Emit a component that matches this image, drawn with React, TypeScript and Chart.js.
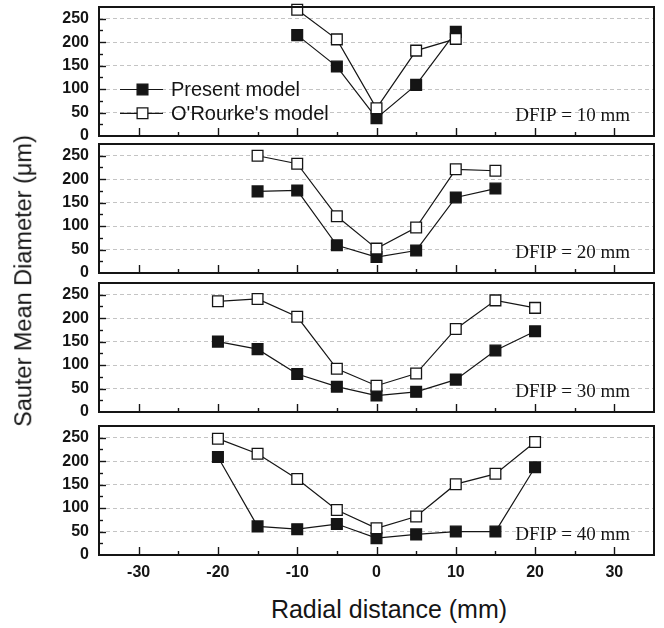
import React, { useEffect, useRef } from 'react';
import { Chart, registerables } from 'chart.js';

Chart.register(...registerables);

// ---------- data ----------
const radialDfip10 = [-10, -5, 0, 5, 10];
const presentDfip10 = [215, 148, 38, 109, 222];
const orourkeDfip10 = [269, 206, 59, 182, 207];

const radialDfip20 = [-15, -10, -5, 0, 5, 10, 15];
const presentDfip20 = [174, 176, 59, 34, 48, 161, 180];
const orourkeDfip20 = [250, 233, 121, 52, 97, 221, 218];

const radialDfip30 = [-20, -15, -10, -5, 0, 5, 10, 15, 20];
const presentDfip30 = [150, 134, 81, 54, 35, 43, 69, 131, 172];
const orourkeDfip30 = [236, 241, 203, 92, 56, 82, 177, 238, 222];

const radialDfip40 = [-20, -15, -10, -5, 0, 5, 10, 15, 20];
const presentDfip40 = [209, 61, 55, 66, 36, 44, 50, 50, 187];
const orourkeDfip40 = [248, 216, 162, 96, 57, 82, 151, 173, 241];

const panelLabels = ['DFIP = 10 mm', 'DFIP = 20 mm', 'DFIP = 30 mm', 'DFIP = 40 mm'];
const seriesNames = ['Present model', "O'Rourke's model"];
const xTickValues = [-30, -20, -10, 0, 10, 20, 30];
const yTickValues = [0, 50, 100, 150, 200, 250];
const xTitle = 'Radial distance (mm)';
const yTitle = 'Sauter Mean Diameter (\u03bcm)';

// ---------- layout ----------
const PLOT_LEFT = 99;
const PLOT_RIGHT = 654;
const PAD_TOP = 7;
const areaTops = [7, 144, 283, 426];
const areaBottoms = [136, 273, 412, 555];
const LAST_CANVAS_BOTTOM = 592;

const INK = '#151515';
const SANS = '"Liberation Sans", Arial, sans-serif';
const SERIF = '"Liberation Serif", "Times New Roman", serif';
const POINT_R = 7.6;

type PanelProps = {
  idx: number;
  xs: number[];
  present: number[];
  orourke: number[];
};

function drawSquare(ctx: CanvasRenderingContext2D, cx: number, cy: number, filled: boolean) {
  const s = Math.SQRT1_2 * POINT_R;
  ctx.beginPath();
  ctx.rect(cx - s, cy - s, 2 * s, 2 * s);
  ctx.fillStyle = filled ? INK : '#ffffff';
  ctx.fill();
  ctx.lineWidth = 1.3;
  ctx.strokeStyle = INK;
  ctx.stroke();
}

function zeroPadding(s: any) {
  s.paddingTop = 0;
  s.paddingBottom = 0;
  s.paddingLeft = 0;
  s.paddingRight = 0;
}

function Panel({ idx, xs, present, orourke }: PanelProps) {
  const ref = useRef<HTMLCanvasElement | null>(null);
  const isLast = idx === 3;
  const canvasTop = areaTops[idx] - PAD_TOP;
  const plotH = areaBottoms[idx] - areaTops[idx];
  const canvasH = isLast ? LAST_CANVAS_BOTTOM - canvasTop : PAD_TOP + plotH + 6;
  const xAxisH = canvasH - PAD_TOP - plotH;

  useEffect(() => {
    if (!ref.current) return;
    const decor = {
      id: 'decor' + idx,
      afterDraw(chart: any) {
        const { ctx, chartArea: a, scales } = chart;
        const x = scales.x;
        const y = scales.y;
        ctx.save();
        // inward tick marks
        ctx.strokeStyle = INK;
        ctx.lineWidth = 1.4;
        for (let v = -30; v <= 30; v += 5) {
          const px = Math.round(x.getPixelForValue(v)) + 0.5;
          const len = v % 10 === 0 ? 8 : 4;
          ctx.beginPath();
          ctx.moveTo(px, a.bottom);
          ctx.lineTo(px, a.bottom - len);
          ctx.stroke();
        }
        for (let v = 25; v <= 250; v += 25) {
          const py = Math.round(y.getPixelForValue(v)) + 0.5;
          const len = v % 50 === 0 ? 7 : 4;
          ctx.beginPath();
          ctx.moveTo(a.left, py);
          ctx.lineTo(a.left + len, py);
          ctx.stroke();
        }
        // frame
        ctx.lineWidth = 2;
        ctx.strokeRect(a.left, a.top, a.right - a.left, a.bottom - a.top);
        // panel label
        ctx.fillStyle = INK;
        ctx.font = '19px ' + SERIF;
        ctx.textAlign = 'right';
        ctx.textBaseline = 'alphabetic';
        ctx.fillText(panelLabels[idx], a.right - 24, a.bottom - 15);
        // legend (first panel only)
        if (idx === 0) {
          const rows = [
            { cy: a.top + 82.5, filled: true, text: seriesNames[0] },
            { cy: a.top + 106.3, filled: false, text: seriesNames[1] },
          ];
          ctx.font = '20px ' + SANS;
          ctx.textAlign = 'left';
          ctx.textBaseline = 'middle';
          rows.forEach((r) => {
            ctx.strokeStyle = INK;
            ctx.lineWidth = 1.2;
            ctx.beginPath();
            ctx.moveTo(a.left + 21, r.cy);
            ctx.lineTo(a.left + 64, r.cy);
            ctx.stroke();
            drawSquare(ctx, a.left + 43.5, r.cy, r.filled);
            ctx.fillStyle = INK;
            ctx.fillText(r.text, a.left + 72, r.cy + 1);
          });
        }
        ctx.restore();
      },
    };

    const chart = new Chart(ref.current, {
      type: 'line',
      data: {
        datasets: [
          {
            label: seriesNames[0],
            data: xs.map((v, i) => ({ x: v, y: present[i] })),
            borderColor: INK,
            borderWidth: 1.2,
            backgroundColor: INK,
            pointStyle: 'rect',
            pointRadius: POINT_R,
            pointBorderWidth: 1.3,
            pointBackgroundColor: INK,
            pointBorderColor: INK,
            tension: 0,
            clip: false as any,
            order: 2,
          },
          {
            label: seriesNames[1],
            data: xs.map((v, i) => ({ x: v, y: orourke[i] })),
            borderColor: INK,
            borderWidth: 1.2,
            backgroundColor: '#ffffff',
            pointStyle: 'rect',
            pointRadius: POINT_R,
            pointBorderWidth: 1.3,
            pointBackgroundColor: '#ffffff',
            pointBorderColor: INK,
            tension: 0,
            clip: false as any,
            order: 1,
          },
        ],
      },
      options: {
        animation: false,
        responsive: false,
        devicePixelRatio: 1,
        events: [],
        layout: {
          autoPadding: false,
          padding: { top: PAD_TOP, left: 0, right: 664 - PLOT_RIGHT, bottom: 0 },
        },
        plugins: { legend: { display: false }, tooltip: { enabled: false }, title: { display: false } },
        scales: {
          x: {
            type: 'linear',
            position: 'bottom',
            min: -35,
            max: 35,
            afterBuildTicks: (s: any) => {
              s.ticks = xTickValues.map((v) => ({ value: v }));
            },
            afterFit: (s: any) => {
              s.height = xAxisH;
              zeroPadding(s);
            },
            grid: { display: false, drawTicks: false },
            border: { display: false },
            ticks: {
              display: isLast,
              color: INK,
              padding: 8,
              font: { family: SANS, size: 16, weight: 'bold' },
              maxRotation: 0,
              autoSkip: false,
            },
          },
          y: {
            type: 'linear',
            min: 0,
            max: 275,
            afterBuildTicks: (s: any) => {
              s.ticks = yTickValues.map((v) => ({ value: v }));
            },
            afterFit: (s: any) => {
              s.width = PLOT_LEFT;
              zeroPadding(s);
            },
            grid: { display: true, drawTicks: false, color: '#c4c4c4', lineWidth: 1 },
            border: { display: false, dash: [4, 3] },
            ticks: {
              color: INK,
              padding: 10,
              font: { family: SANS, size: 16, weight: 'bold' },
            },
          },
        },
      },
      plugins: [decor],
    } as any);
    return () => chart.destroy();
  }, []);

  return (
    <canvas
      ref={ref}
      width={664}
      height={canvasH}
      style={{ position: 'absolute', left: 0, top: canvasTop, width: 664, height: canvasH }}
    />
  );
}

export default function App() {
  return (
    <div
      style={{
        position: 'fixed',
        left: 0,
        top: 0,
        width: 664,
        height: 628,
        background: '#ffffff',
        overflow: 'hidden',
      }}
    >
      <Panel idx={0} xs={radialDfip10} present={presentDfip10} orourke={orourkeDfip10} />
      <Panel idx={1} xs={radialDfip20} present={presentDfip20} orourke={orourkeDfip20} />
      <Panel idx={2} xs={radialDfip30} present={presentDfip30} orourke={orourkeDfip30} />
      <Panel idx={3} xs={radialDfip40} present={presentDfip40} orourke={orourkeDfip40} />
      <div
        style={{
          position: 'absolute',
          left: 24,
          top: 281,
          transform: 'translate(-50%, -50%) rotate(-90deg)',
          whiteSpace: 'nowrap',
          fontFamily: SANS,
          fontSize: 23.5,
          lineHeight: 1,
          color: INK,
        }}
      >
        {yTitle}
      </div>
      <div
        style={{
          position: 'absolute',
          left: 389,
          top: 597,
          transform: 'translateX(-50%)',
          whiteSpace: 'nowrap',
          fontFamily: SANS,
          fontSize: 25,
          lineHeight: 1,
          color: INK,
        }}
      >
        {xTitle}
      </div>
    </div>
  );
}
